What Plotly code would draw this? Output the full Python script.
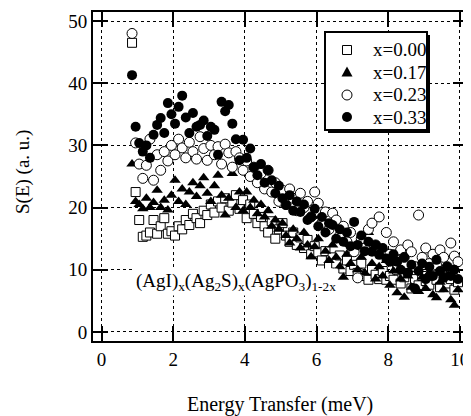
import plotly.graph_objects as go

energy = [0.85, 0.95, 1.05, 1.15, 1.25, 1.35, 1.45, 1.55, 1.65, 1.75, 1.85, 1.95,
          2.05, 2.15, 2.25, 2.35, 2.45, 2.55, 2.65, 2.75, 2.85, 2.95,
          3.05, 3.15, 3.25, 3.35, 3.45, 3.55, 3.65, 3.75, 3.85, 3.95,
          4.05, 4.15, 4.25, 4.35, 4.45, 4.55, 4.65, 4.75, 4.85, 4.95,
          5.05, 5.15, 5.25, 5.35, 5.45, 5.55, 5.65, 5.75, 5.85, 5.95,
          6.05, 6.15, 6.25, 6.35, 6.45, 6.55, 6.65, 6.75, 6.85, 6.95,
          7.05, 7.15, 7.25, 7.35, 7.45, 7.55, 7.65, 7.75, 7.85, 7.95,
          8.05, 8.15, 8.25, 8.35, 8.45, 8.55, 8.65, 8.75, 8.85, 8.95,
          9.05, 9.15, 9.25, 9.35, 9.45, 9.55, 9.65, 9.75, 9.85, 9.95]

s_x000 = [46.5, 22.5, 18.0, 15.3, 15.5, 16.0, 18.0, 15.8, 17.0, 18.3, 15.8, 16.2,
          15.5, 17.0, 16.5, 18.0, 17.2, 19.0, 18.3, 17.5, 19.5, 18.8,
          20.5, 19.2, 21.0, 20.0, 21.5, 19.5, 20.8, 22.0, 19.8, 21.2,
          18.3, 20.5, 19.0, 17.5, 18.5, 17.0, 16.0, 17.8, 15.0, 16.5,
          17.5, 15.5, 14.5, 16.0, 14.0, 15.2, 13.5, 14.8, 12.5, 13.8,
          12.8, 11.5, 13.0, 10.5, 12.0, 11.0, 12.3, 10.2, 11.5, 9.8,
          10.8, 9.5, 11.0, 9.0, 8.4, 10.0, 9.2, 8.5, 9.8, 8.4,
          9.0, 8.4, 10.0, 7.8, 8.8, 9.5, 7.0, 8.5, 7.5, 9.0,
          8.2, 7.6, 9.2, 8.4, 7.2, 8.8, 7.8, 8.5, 6.8, 8.0]

s_x017 = [27.0, 21.0, 20.5, 19.8, 21.5, 20.0, 20.8, 22.8, 20.0, 21.2, 19.6, 22.0,
          24.4, 21.0, 23.0, 20.5, 22.5, 24.0, 21.8, 23.5, 24.8, 22.3,
          21.0, 23.5, 25.2, 22.0, 18.8, 21.5, 25.5, 20.0, 22.5, 19.5,
          22.5, 20.0, 21.2, 19.0, 20.5, 18.5, 19.5, 17.0, 18.0, 16.5,
          17.5, 15.5, 14.3, 16.5, 15.0, 13.5, 16.0, 14.0, 12.1, 13.7,
          15.0, 17.7, 13.0, 11.5, 14.0, 12.0, 10.5, 8.8, 12.5, 11.0,
          13.5, 10.0, 12.0, 9.5, 16.0, 11.0, 8.5, 10.5, 9.0, 11.5,
          7.5, 9.8, 6.3, 8.5, 5.6, 9.0, 7.2, 10.0, 6.5, 8.8,
          7.0, 9.5, 6.0, 5.5, 8.0, 6.8, 9.0, 5.2, 4.3, 6.8]

s_x023 = [48.0, 30.4, 27.0, 24.7, 26.8, 31.0, 24.4, 28.5, 26.0, 29.0, 27.5, 30.0,
          28.5, 31.0, 29.6, 28.0, 30.5, 29.0, 27.8, 31.4, 29.5, 27.6,
          30.0, 28.5, 29.8, 27.0, 30.2, 28.8, 26.5, 29.0, 28.0, 26.0,
          27.5, 25.0, 26.5, 24.0, 25.5, 23.0, 26.0, 22.5, 24.0, 21.0,
          22.8, 20.5, 23.0, 21.5, 19.5, 22.3, 20.0, 21.0, 18.5, 22.5,
          20.7, 17.5, 19.3, 16.5, 19.1, 18.0, 15.5, 17.0, 14.5, 16.0,
          12.9, 8.7, 15.0, 13.5, 16.5, 17.5, 14.0, 18.5, 13.0, 16.0,
          12.5, 14.5, 11.5, 13.2, 12.0, 14.0, 12.9, 10.5, 18.8, 12.0,
          13.5, 11.0, 12.5, 10.8, 13.2, 12.0, 10.5, 14.3, 12.2, 11.3]

s_x033 = [41.3, 33.0, 30.4, 29.0, 30.0, 28.0, 31.7, 33.3, 34.4, 32.0, 36.8, 35.0,
          33.5, 36.2, 38.0, 34.5, 32.0, 35.2, 33.0, 33.3, 34.0, 31.5,
          33.0, 32.5, 28.5, 37.0, 35.5, 36.5, 33.5, 31.0, 27.6, 30.9,
          28.0, 29.5, 26.5, 25.2, 27.0, 24.0, 26.0, 24.4, 22.3, 23.5,
          21.5, 20.4, 22.0, 19.5, 21.0, 19.3, 20.5, 18.0, 18.5, 19.8,
          17.0, 18.5, 16.0, 17.5, 17.2, 15.0, 16.5, 14.5, 16.0, 13.8,
          17.7, 14.0, 15.5, 13.0, 14.5, 12.9, 14.0, 12.4, 13.5, 11.8,
          11.3, 12.5, 11.3, 10.0, 12.0, 9.5, 10.8, 7.0, 9.8, 11.0,
          8.5, 10.5, 9.0, 11.6, 9.8, 8.7, 10.5, 9.0, 10.0, 8.5]

series_names = ["x=0.00", "x=0.17", "x=0.23", "x=0.33"]
x_ticks = [0, 2, 4, 6, 8, 10]
y_ticks = [0, 10, 20, 30, 40, 50]
x_title = "Energy Transfer (meV)"
y_title = "S(E) (a. u.)"
composition = "(AgI)<sub>x</sub>(Ag<sub>2</sub>S)<sub>x</sub>(AgPO<sub>3</sub>)<sub>1-2x</sub>"

FONT = "Liberation Serif, Times New Roman, serif"
PAGE = 8                      # default page body margin of the html page
W, H = 471 - PAGE, 416 - PAGE  # figure size so that it ends at the window edge
SL, SR, ST, SB = 93, 468, 12, 341   # plot area in screenshot pixels


def px(xp):
    return (xp - SL) / (SR - SL)


def py(yp):
    return (SB - yp) / (SB - ST)


styles = [
    dict(symbol="square", color="white", size=9, line=dict(color="black", width=1)),
    dict(symbol="triangle-up", color="black", size=10, line=dict(color="black", width=0)),
    dict(symbol="circle", color="white", size=10, line=dict(color="black", width=1)),
    dict(symbol="circle", color="black", size=10, line=dict(color="black", width=0)),
]

fig = go.Figure()
for name, vals, st in zip(series_names, [s_x000, s_x017, s_x023, s_x033], styles):
    fig.add_trace(go.Scatter(x=energy, y=vals, mode="markers", name=name,
                             marker=st, showlegend=False))

axis_common = dict(
    showline=True, linecolor="black", linewidth=2, mirror="allticks",
    ticks="inside", ticklen=15, tickwidth=2, tickcolor="black",
    showgrid=True, gridcolor="black", gridwidth=1, griddash="dot",
    zeroline=False, automargin=False,
    tickfont=dict(family=FONT, size=19, color="black"),
)

fig.update_xaxes(range=[-0.24, 10.23], tickvals=x_ticks, **axis_common)
fig.update_yaxes(range=[-1.45, 51.45], tickvals=y_ticks, **axis_common)

# axis titles
fig.add_annotation(text=x_title, xref="paper", yref="paper", x=px(280), y=py(404),
                   xanchor="center", yanchor="middle", showarrow=False,
                   font=dict(family=FONT, size=20, color="black"))
fig.add_annotation(text=y_title, xref="paper", yref="paper", x=px(23), y=py(172),
                   xanchor="center", yanchor="middle", textangle=-90, showarrow=False,
                   font=dict(family=FONT, size=19, color="black"))

# composition label
fig.add_annotation(x=3.75, y=8.0, xref="x", yref="y", text=composition,
                   showarrow=False, font=dict(family=FONT, size=19, color="black"),
                   bgcolor="white")

# legend: shadow, box, symbols, labels
shapes = [
    dict(type="rect", x0=px(328), x1=px(430), y0=py(133), y1=py(35),
         fillcolor="black", line=dict(width=0)),
    dict(type="rect", x0=px(325), x1=px(427), y0=py(130), y1=py(32),
         fillcolor="white", line=dict(color="black", width=2)),
]
sym_x = 347
rows_y = [50, 72, 95, 117]
shapes.append(dict(type="rect", x0=px(sym_x - 4.5), x1=px(sym_x + 4.5),
                   y0=py(rows_y[0] + 4.5), y1=py(rows_y[0] - 4.5),
                   fillcolor="white", line=dict(color="black", width=1)))
ty = rows_y[1]
shapes.append(dict(type="path",
                   path="M {a},{b} L {c},{d} L {e},{f} Z".format(
                       a=px(sym_x - 5.5), b=py(ty + 4.5), c=px(sym_x + 5.5), d=py(ty + 4.5),
                       e=px(sym_x), f=py(ty - 5.5)),
                   fillcolor="black", line=dict(color="black", width=0)))
shapes.append(dict(type="circle", x0=px(sym_x - 5), x1=px(sym_x + 5),
                   y0=py(rows_y[2] + 5), y1=py(rows_y[2] - 5),
                   fillcolor="white", line=dict(color="black", width=1)))
shapes.append(dict(type="circle", x0=px(sym_x - 5), x1=px(sym_x + 5),
                   y0=py(rows_y[3] + 5), y1=py(rows_y[3] - 5),
                   fillcolor="black", line=dict(color="black", width=0)))
for s in shapes:
    fig.add_shape(xref="paper", yref="paper", layer="above", **s)

for name, ry in zip(series_names, rows_y):
    fig.add_annotation(text=name, xref="paper", yref="paper", x=px(371), y=py(ry),
                       xanchor="left", yanchor="middle", showarrow=False,
                       font=dict(family=FONT, size=19, color="black"))

fig.update_layout(
    width=W, height=H,
    margin=dict(l=SL - PAGE, r=(W + PAGE) - SR, t=ST - PAGE, b=(H + PAGE) - SB, pad=0),
    paper_bgcolor="white", plot_bgcolor="white",
    font=dict(family=FONT, color="black"),
    showlegend=False,
)

fig.write_html("out.html")
